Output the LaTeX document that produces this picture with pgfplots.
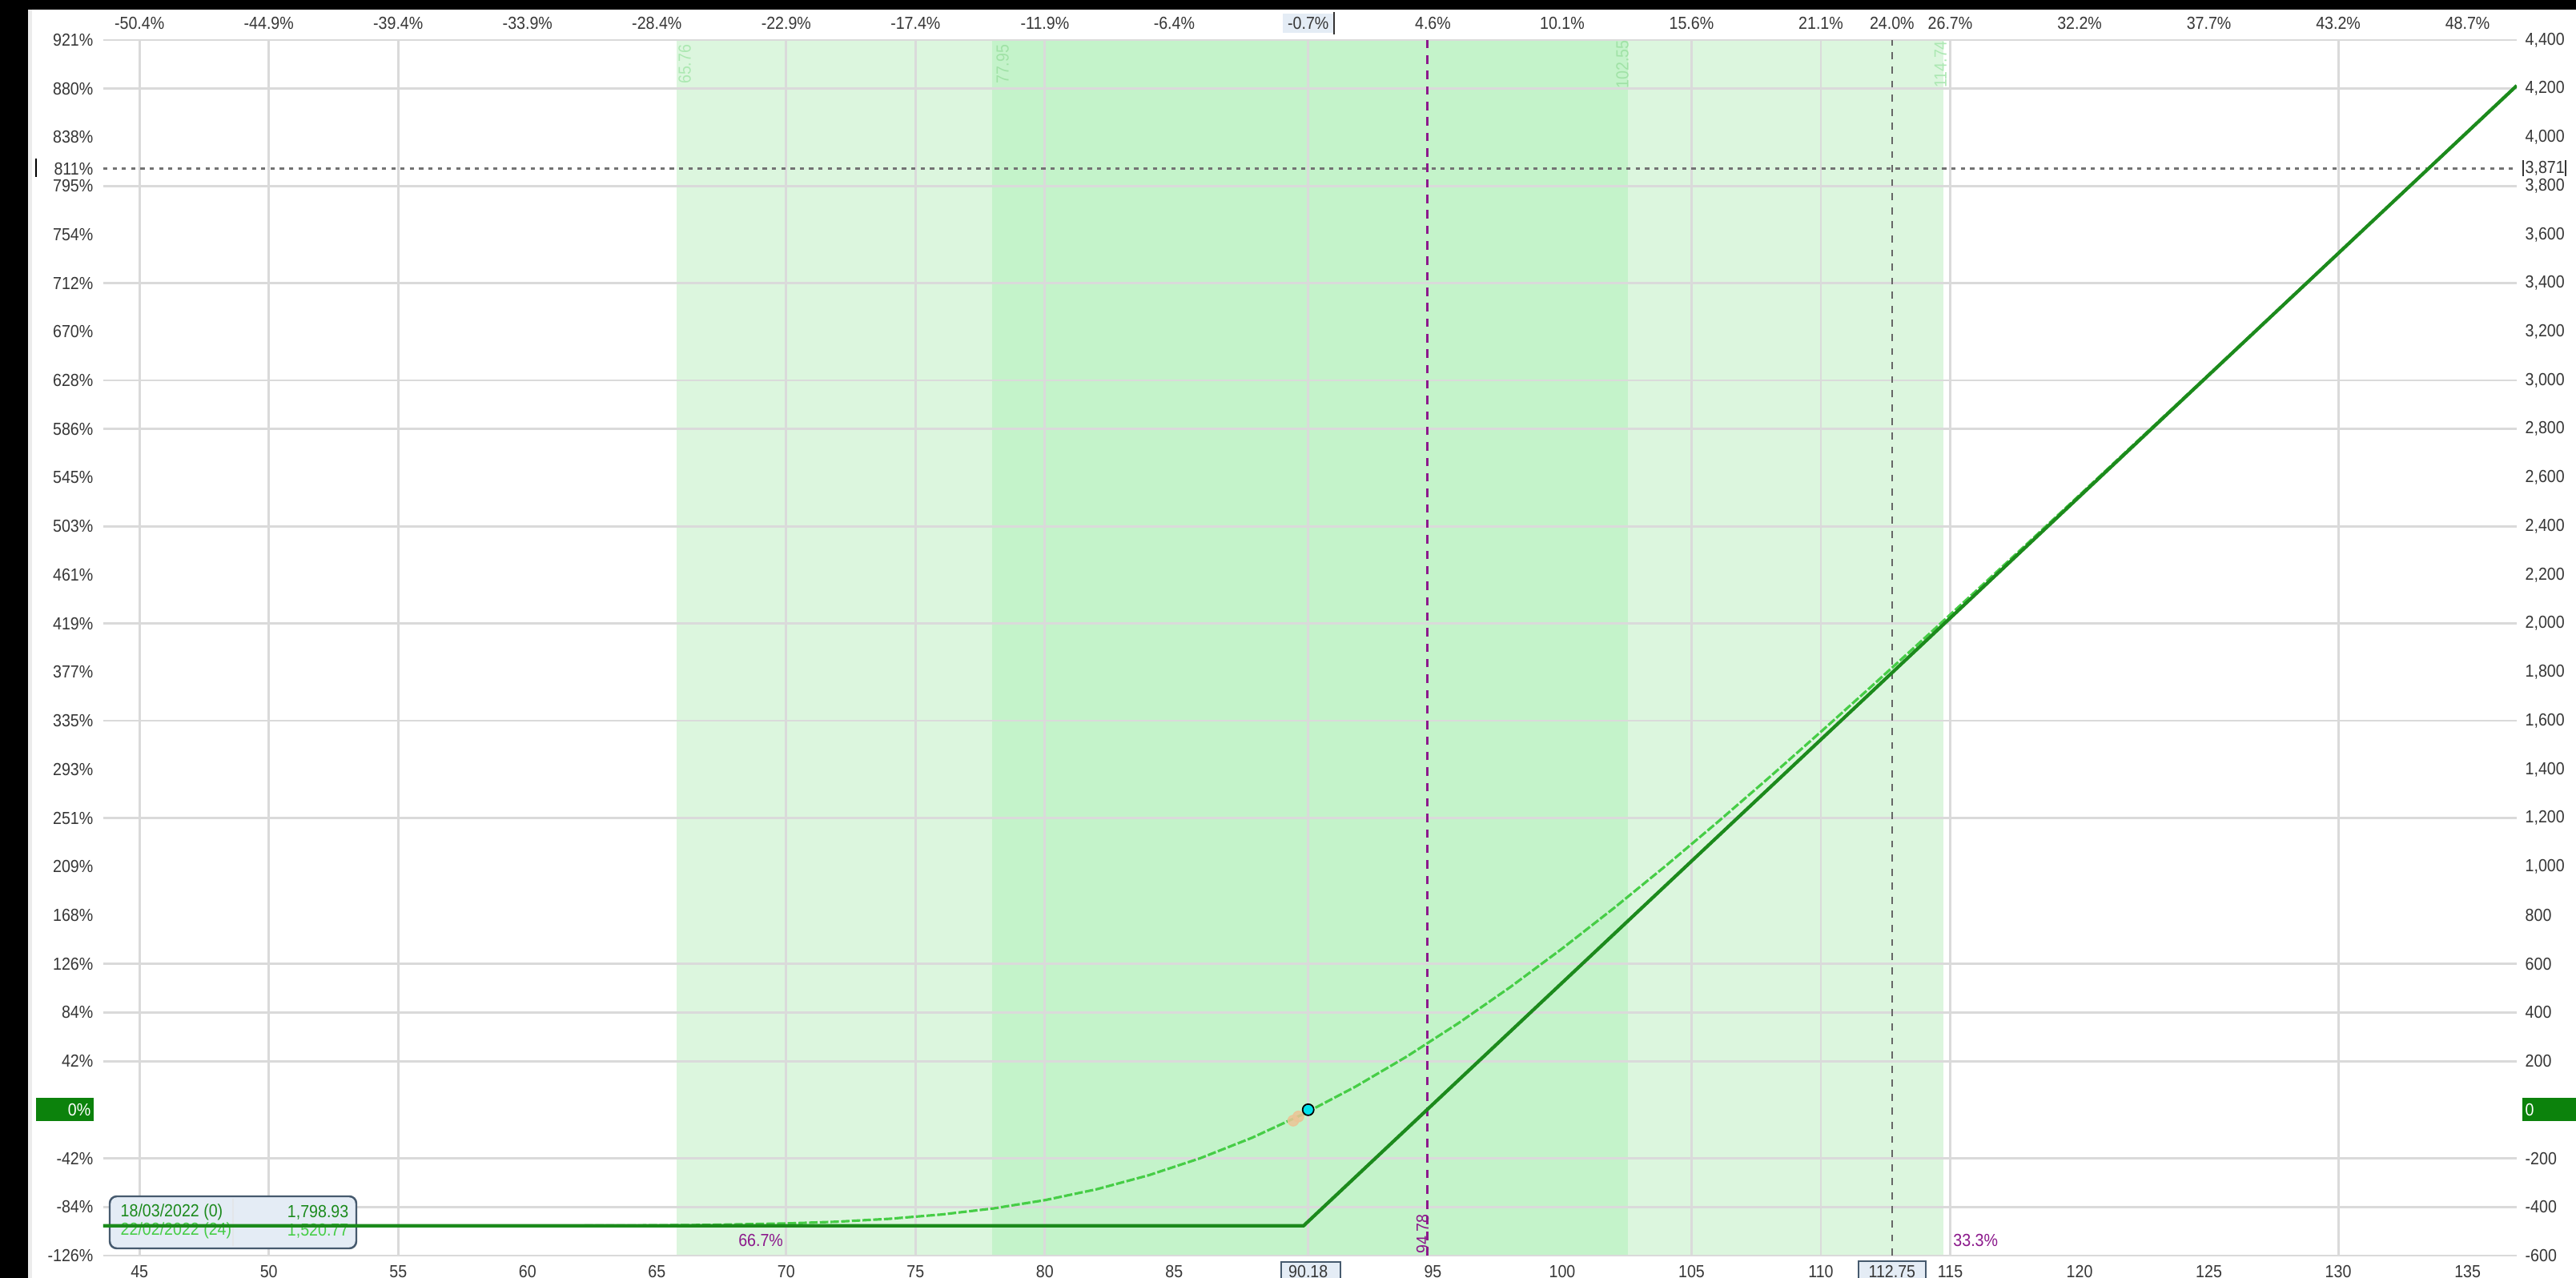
\documentclass[border=0pt]{standalone}
\usepackage{fontspec}
\setmainfont{Liberation Sans}[FakeStretch=0.9]
\usepackage{pgfplots}
\pgfplotsset{compat=1.18}
\definecolor{gridgray}{RGB}{218,218,218}
\definecolor{bandlight}{RGB}{220,246,222}
\definecolor{banddark}{RGB}{196,243,202}
\definecolor{expgreen}{RGB}{28,138,28}
\definecolor{todaygreen}{RGB}{70,205,70}
\definecolor{purp}{RGB}{140,25,140}
\definecolor{boxgreen}{RGB}{12,130,12}
\definecolor{lblgray}{RGB}{55,55,55}
\definecolor{boxfill}{RGB}{228,236,245}
\definecolor{boxedge}{RGB}{70,90,110}
\definecolor{bandtxt}{RGB}{172,232,178}
\definecolor{bandtxtd}{RGB}{160,226,166}
\definecolor{dotcyan}{RGB}{0,225,235}
\definecolor{tanc}{RGB}{236,196,150}
\newcommand{\lf}{\fontsize{6.2}{7}\selectfont}
\begin{document}
\begin{tikzpicture}
\useasboundingbox (0,0) rectangle (32.17,15.96);
\fill[white] (0,0) rectangle (32.17,15.96);
\fill[black] (0,0) rectangle (0.35,15.96);
\fill[black] (0,15.84) rectangle (32.17,15.96);
\fill[gray!15] (0.35,0) rectangle (0.40,15.84);
% label boxes
\fill[boxfill] (16.02,15.55) rectangle (16.66,15.79);
\draw[black!80, line width=0.7pt] (16.66,15.53) -- (16.66,15.81);
\filldraw[fill=boxfill, draw=boxedge, line width=0.8pt] (16.00,-0.2) rectangle (16.74,0.20);
\filldraw[fill=boxfill, draw=boxedge, line width=0.8pt] (23.21,-0.2) rectangle (24.05,0.21);
\draw[lblgray, line width=0.6pt] (31.51,13.76) -- (31.51,13.96) (32.04,13.76) -- (32.04,13.96);
\fill[boxgreen] (0.45,1.957) rectangle (1.17,2.247);
\fill[boxgreen] (31.50,1.957) rectangle (32.17,2.247);
\draw[black, line width=0.6pt] (0.45,13.75) -- (0.45,13.98);
\node[anchor=east, text=white, font=\lf, inner sep=0pt] at (1.14,2.10) {0\%};
\node[anchor=west, text=white, font=\lf, inner sep=0pt] at (31.53,2.10) {0};

\pgfplotsset{base/.style={at={(1.29cm,0.28cm)}, anchor=south west, scale only axis,
  width=30.14cm, height=15.18cm, xmin=43.6, xmax=136.9, ymin=-600, ymax=4400,
  axis line style={draw=none}, tick style={draw=none},
  every tick label/.append style={font=\lf, text=lblgray, inner sep=0pt}}}

% bands and grid
\begin{axis}[base, axis on top, xtick=\empty, ytick=\empty,
  extra x ticks={45,50,55,70,75,80,90.18,105,110,115,130},
  extra x tick labels={}, extra x tick style={grid=major},
  extra y ticks={-600,-400,-200,200,400,600,1200,1600,2000,2400,2800,3000,3400,3800,4200,4400},
  extra y tick labels={}, extra y tick style={grid=major},
  major grid style={draw=gridgray, line width=0.8pt}]
\addplot[fill=bandlight, draw=none] coordinates {(65.76,-600) (65.76,4400) (114.74,4400) (114.74,-600)} -- cycle;
\addplot[fill=banddark, draw=none] coordinates {(77.95,-600) (77.95,4400) (102.55,4400) (102.55,-600)} -- cycle;
\end{axis}

% legend box
\draw[fill=boxfill, draw=boxedge, line width=0.7pt, rounded corners=2.5pt] (1.37,0.37) rectangle (4.45,1.02);
\draw[boxedge!15, line width=0.5pt] (2.91,0.40) -- (2.91,0.99);
\node[anchor=west, text=expgreen, font=\lf, inner sep=0pt] at (1.50,0.82) {18/03/2022 (0)};
\node[anchor=east, text=expgreen, font=\lf, inner sep=0pt] at (4.36,0.82) {1,798.93};
\node[anchor=west, text=todaygreen, font=\lf, inner sep=0pt] at (1.50,0.59) {22/02/2022 (24)};
\node[anchor=east, text=todaygreen, font=\lf, inner sep=0pt] at (4.36,0.59) {1,520.77};

% curves, bottom and left labels
\begin{axis}[base,
  xtick={45,50,55,60,65,70,75,80,85,90.18,95,100,105,110,112.75,115,120,125,130,135},
  xticklabels={45,50,55,60,65,70,75,80,85,90.18,95,100,105,110,112.75,115,120,125,130,135},
  ytick={-600,-400,-200,200,400,600,800,1000,1200,1400,1600,1800,2000,2200,2400,2600,2800,3000,3200,3400,3600,3800,3871,4000,4200,4400},
  yticklabels={-126\%,-84\%,-42\%,42\%,84\%,126\%,168\%,209\%,251\%,293\%,335\%,377\%,419\%,461\%,503\%,545\%,586\%,628\%,670\%,712\%,754\%,795\%,811\%,838\%,880\%,921\%},
  xticklabel style={anchor=center, yshift=-0.2cm},
  yticklabel style={anchor=east, xshift=-0.12cm}]
\addplot[purp, line width=0.8pt, dash pattern=on 3pt off 2.5pt] coordinates {(94.78,-600) (94.78,4400)};
\addplot[black!60, line width=0.7pt, dash pattern=on 2.5pt off 2.5pt] coordinates {(112.75,-600) (112.75,4400)};
\addplot[black!55, line width=0.8pt, dash pattern=on 1.5pt off 1.8pt] coordinates {(43.6,3871) (136.9,3871)};
\addplot[todaygreen, line width=0.9pt, dash pattern=on 3pt off 0.8pt] coordinates {
(43.6,-477.5) (55,-477.5) (60,-477.3) (64,-476.3) (67,-473.9) (70,-467.9) (72,-460.5) (74,-448.7)
(76,-431.1) (78,-406.2) (80,-372.0) (82,-327.2) (84,-270.0) (86,-199.8) (88,-115.7) (90,-17.5)
(92,94.4) (94,219.4) (96,356.9) (98,505.0) (100,663.1) (102,829.4) (104,1003.0) (106,1182.4)
(108,1366.6) (110,1554.6) (112,1745.7) (114,1939.0) (116,2134.3) (118,2330.7) (120,2528.3)
(125,3024.7) (130,3523.4) (136.9,4213.0)};
\addplot[expgreen, line width=1.2pt] coordinates {(43.6,-477.5) (90,-477.5) (136.9,4212.5)};
\addplot[tanc, only marks, mark=*, mark size=1.9pt, mark options={fill=tanc, draw=tanc, fill opacity=0.85, draw opacity=0.85}] coordinates {(89.6,-45) (89.8,-28)};
\addplot[black, only marks, mark=*, mark size=2pt, mark options={fill=dotcyan, draw=black, line width=0.5pt}] coordinates {(90.18,0)};
\node[anchor=east, text=purp, font=\lf, inner sep=0pt] at (axis cs:69.9,-537) {66.7\%};
\node[anchor=west, text=purp, font=\lf, inner sep=0pt] at (axis cs:115.1,-537) {33.3\%};
\node[rotate=90, text=purp, font=\lf, inner sep=0pt] at (axis cs:94.6,-511) {94.78};
\node[rotate=90, text=bandtxt, font=\lf, inner sep=0pt] at (axis cs:66.08,4300) {65.76};
\node[rotate=90, text=bandtxtd, font=\lf, inner sep=0pt] at (axis cs:78.37,4300) {77.95};
\node[rotate=90, text=bandtxtd, font=\lf, inner sep=0pt] at (axis cs:102.33,4300) {102.55};
\node[rotate=90, text=bandtxt, font=\lf, inner sep=0pt] at (axis cs:114.62,4300) {114.74};
\end{axis}

% top and right labels
\begin{axis}[base, xticklabel pos=upper, yticklabel pos=upper,
  xtick={45,50,55,60,65,70,75,80,85,90.18,95,100,105,110,112.75,115,120,125,130,135},
  xticklabels={-50.4\%,-44.9\%,-39.4\%,-33.9\%,-28.4\%,-22.9\%,-17.4\%,-11.9\%,-6.4\%,-0.7\%,4.6\%,10.1\%,15.6\%,21.1\%,24.0\%,26.7\%,32.2\%,37.7\%,43.2\%,48.7\%},
  ytick={-600,-400,-200,200,400,600,800,1000,1200,1400,1600,1800,2000,2200,2400,2600,2800,3000,3200,3400,3600,3800,3871,4000,4200,4400},
  yticklabels={-600,-400,-200,200,400,600,800,{1,000},{1,200},{1,400},{1,600},{1,800},{2,000},{2,200},{2,400},{2,600},{2,800},{3,000},{3,200},{3,400},{3,600},{3,800},{3,871},{4,000},{4,200},{4,400}},
  xticklabel style={anchor=center, yshift=0.21cm},
  yticklabel style={anchor=west, xshift=0.1cm}]
\end{axis}
\end{tikzpicture}
\end{document}
